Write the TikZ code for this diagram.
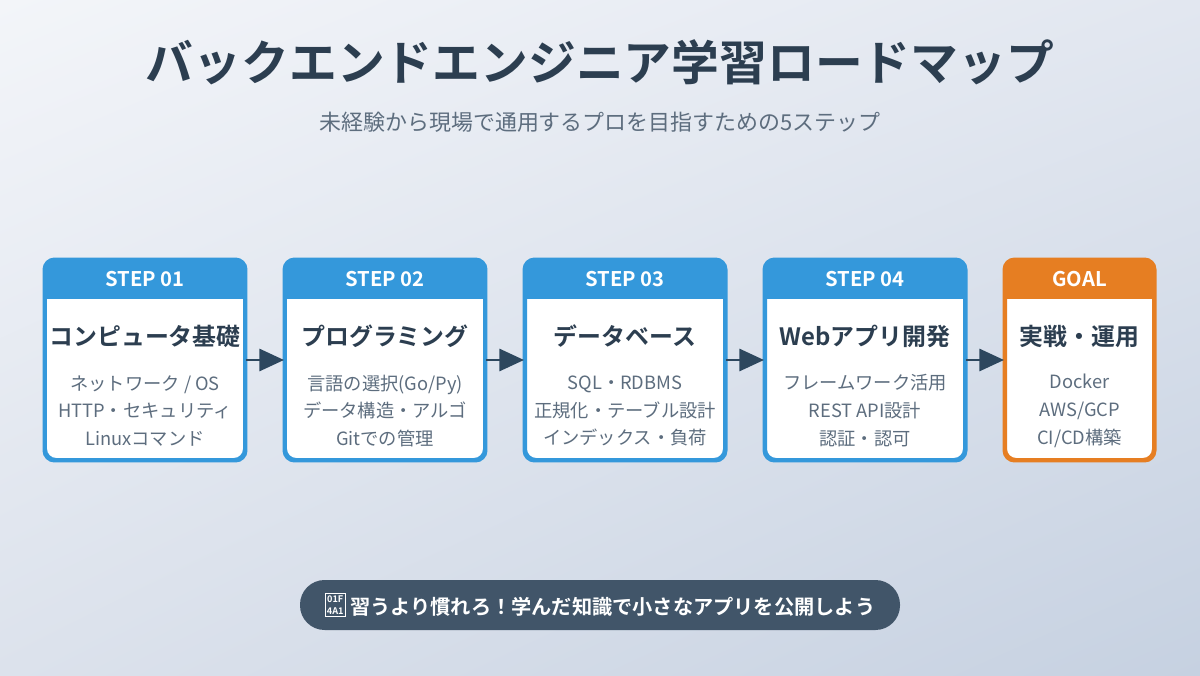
\documentclass[tikz,border=0pt]{standalone}
\usepackage{fontspec}
\setmainfont{Noto Sans CJK JP}[BoldFont={Noto Sans CJK JP Bold}]
\usetikzlibrary{arrows.meta, shadings}

\definecolor{ink}{HTML}{2C3E50}
\definecolor{subink}{HTML}{5D6D7E}
\definecolor{stepblue}{HTML}{3498DB}
\definecolor{goalorange}{HTML}{E67E22}
\definecolor{banner}{HTML}{415569}
\definecolor{bgul}{HTML}{F3F5F9}
\definecolor{bgur}{HTML}{E2E7F0}
\definecolor{bgll}{HTML}{DCE2EC}
\definecolor{bglr}{HTML}{C6D1E1}

\newcommand{\tofubox}{{\fboxsep=0.8pt\fboxrule=0.4pt\fbox{\fontsize{5.2}{5.6}\selectfont\shortstack{01F\\4A1}}}}

\begin{document}
\begin{tikzpicture}[
  x=1cm, y=1cm,
  title/.style={font=\fontsize{27.2}{31}\selectfont\bfseries, text=ink},
  subtitle/.style={font=\fontsize{12.5}{15}\selectfont, text=subink},
  card/.style={draw=#1, line width=1.7pt, fill=white, rounded corners=6pt,
    minimum height=3.98cm, inner sep=0pt},
  head/.style={font=\fontsize{11.5}{13}\selectfont\bfseries, text=white},
  cardtitle/.style={font=\fontsize{13.6}{16}\selectfont\bfseries, text=ink},
  items/.style={font=\fontsize{10.4}{15.9}\selectfont, text=subink, align=center},
  arrow/.style={-{Triangle[length=14pt, width=12.5pt]}, line width=1.7pt, ink!90!stepblue},
  tip/.style={fill=banner, rounded corners=14pt, minimum width=12cm, minimum height=1cm,
    text=white, font=\fontsize{11.5}{13}\selectfont\bfseries},
]

% Background
\shade[upper left=bgul, upper right=bgur, lower left=bgll, lower right=bglr]
  (0,0) rectangle (24,13.5);
\useasboundingbox (0,0) rectangle (24,13.5);

% Title
\node[title] (title) at (12,12.26) {バックエンドエンジニア学習ロードマップ};
\node[subtitle] (subtitle) at (12,11.06) {未経験から現場で通用するプロを目指すための5ステップ};

% Cards
\foreach \i/\x/\w/\c/\lab/\name/\body in {
  1/2.9/3.98/stepblue/STEP 01/コンピュータ基礎/{ネットワーク / OS\\HTTP・セキュリティ\\Linuxコマンド},
  2/7.7/3.98/stepblue/STEP 02/プログラミング/{言語の選択(Go/Py)\\データ構造・アルゴ\\Gitでの管理},
  3/12.5/3.98/stepblue/STEP 03/データベース/{SQL・RDBMS\\正規化・テーブル設計\\インデックス・負荷},
  4/17.3/3.98/stepblue/STEP 04/Webアプリ開発/{フレームワーク活用\\REST API設計\\認証・認可},
  5/21.59/2.96/goalorange/GOAL/実戦・運用/{Docker\\AWS/GCP\\CI/CD構築}}{
  \node[card=\c, minimum width=\w cm] (s\i) at (\x,6.3) {};
  \begin{scope}
    \clip[rounded corners=6pt] (s\i.south west) rectangle (s\i.north east);
    \fill[\c] (s\i.north west) rectangle ([yshift=-0.8cm]s\i.north east);
  \end{scope}
  \draw[\c, line width=1.7pt, rounded corners=6pt] (s\i.south west) rectangle (s\i.north east);
  \node[head] (h\i) at (\x,7.92) {\lab};
  \node[cardtitle] (t\i) at (\x,6.78) {\name};
  \node[items] (b\i) at (\x,5.28) {\body};
}

% Arrows between cards
\foreach \a/\b in {1/2, 2/3, 3/4, 4/5}{
  \draw[arrow] (s\a.east) -- (s\b.west);
}

% Bottom message
\node[tip] (tip) at (12,1.4) {\tofubox\ 習うより慣れろ！学んだ知識で小さなアプリを公開しよう};

\end{tikzpicture}
\end{document}
